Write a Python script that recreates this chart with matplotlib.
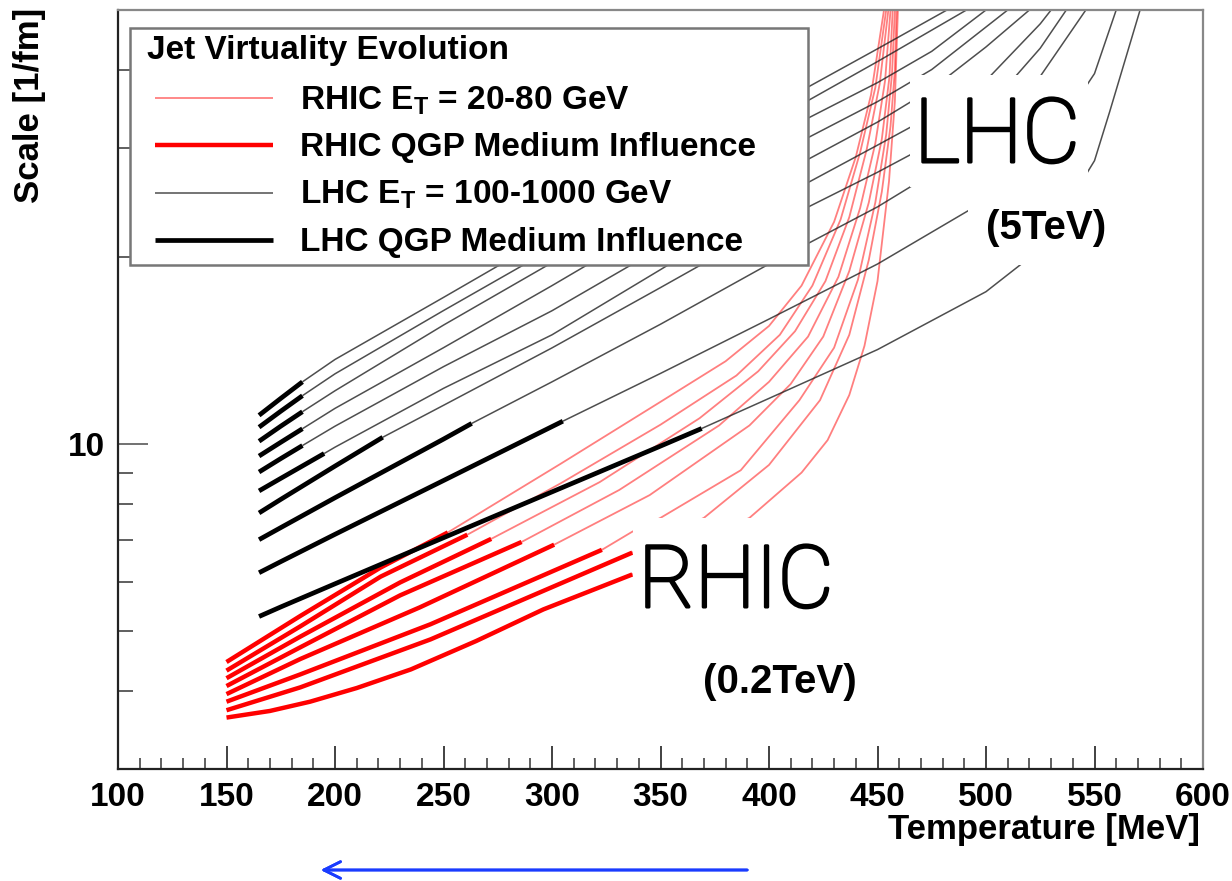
import matplotlib
matplotlib.use("Agg")
import matplotlib.pyplot as plt
import matplotlib.patheffects as pe
from matplotlib.lines import Line2D
from matplotlib.patches import Rectangle
from matplotlib.ticker import FixedLocator, NullFormatter, FixedFormatter

plt.rcParams['font.family'] = ['Liberation Sans', 'DejaVu Sans']
plt.rcParams['font.weight'] = 'bold'
plt.rcParams['mathtext.fontset'] = 'custom'
plt.rcParams['mathtext.rm'] = 'Liberation Sans:bold'
plt.rcParams['mathtext.bf'] = 'Liberation Sans:bold'

# --- LHC jets (black): medium part (thick) and vacuum part (thin), (T [MeV], scale [1/fm])
lhc_1_qgp = [(165, 11.13), (175, 11.85), (185, 12.6)]
lhc_1_vac = [(185, 12.6), (200, 13.69), (250, 17.23), (300, 21.74), (350, 27.5), (400, 34.7), (450, 43.3), (482, 50)]
lhc_2_qgp = [(165, 10.65), (175, 11.30), (185, 11.97)]
lhc_2_vac = [(185, 11.97), (200, 12.98), (250, 16.41), (300, 20.64), (350, 26.08), (400, 32.95), (450, 41.3), (491, 50)]
lhc_3_qgp = [(165, 10.11), (175, 10.69), (185, 11.28)]
lhc_3_vac = [(185, 11.28), (200, 12.19), (250, 15.55), (300, 19.6), (350, 24.7), (400, 31.1), (450, 38.2), (475, 42.9), (500, 50)]
lhc_4_qgp = [(165, 9.57), (175, 10.07), (185, 10.59)]
lhc_4_vac = [(185, 10.59), (200, 11.42), (250, 14.30), (300, 18.0), (350, 22.8), (400, 28.9), (450, 35.6), (475, 40.1), (510, 50)]
lhc_5_qgp = [(165, 9.02), (175, 9.48), (185, 9.95)]
lhc_5_vac = [(185, 9.95), (200, 10.69), (250, 13.33), (300, 16.4), (350, 20.7), (400, 26.6), (450, 33.0), (475, 37.3), (500, 43.6), (520, 50)]
lhc_6_qgp = [(165, 8.41), (175, 8.81), (195, 9.66)]
lhc_6_vac = [(195, 9.66), (200, 9.89), (250, 12.3), (300, 15.0), (350, 19.1), (400, 24.4), (450, 30.3), (475, 33.8), (500, 38.5), (525, 47.5), (530, 50)]
lhc_7_qgp = [(165, 7.75), (175, 8.15), (200, 9.22), (222, 10.26)]
lhc_7_vac = [(222, 10.26), (250, 11.55), (300, 14.29), (350, 17.87), (400, 22.4), (450, 27.4), (475, 30.5), (500, 34.5), (525, 43.4), (537, 50)]
lhc_8_qgp = [(165, 7.02), (175, 7.34), (200, 8.20), (250, 10.19), (263, 10.8)]
lhc_8_vac = [(263, 10.8), (300, 12.6), (350, 15.6), (400, 19.5), (450, 24.1), (500, 30.8), (525, 39.1), (546, 50)]
lhc_9_qgp = [(165, 6.21), (175, 6.47), (200, 7.16), (250, 8.74), (305, 10.89)]
lhc_9_vac = [(305, 10.89), (350, 13.0), (400, 15.9), (450, 19.5), (500, 24.7), (525, 29.2), (550, 39.5), (560, 50)]
lhc_10_qgp = [(165, 5.28), (175, 5.47), (200, 5.96), (250, 7.07), (300, 8.38), (350, 9.93), (369, 10.6)]
lhc_10_vac = [(369, 10.6), (400, 11.85), (450, 14.2), (500, 17.6), (525, 20.6), (550, 28.6), (557, 34.3), (571, 50)]

# --- RHIC jets (red)
rhic_1_qgp = [(150, 4.46), (184, 5.29), (221, 6.33), (252, 7.21)]
rhic_1_vac = [(252, 7.21), (304, 9.30), (350, 11.7), (380, 13.6), (400, 15.5), (415, 18.0), (430, 22.8), (440, 29.0), (447, 36.5), (453, 50)]
rhic_2_qgp = [(150, 4.32), (184, 5.09), (221, 6.12), (261, 7.15)]
rhic_2_vac = [(261, 7.15), (304, 8.65), (350, 10.75), (385, 12.9), (405, 15.0), (420, 18.0), (433, 23.0), (442, 29.5), (449, 37.5), (454, 50)]
rhic_3_qgp = [(150, 4.20), (184, 4.90), (230, 5.99), (272, 7.04)]
rhic_3_vac = [(272, 7.04), (322, 8.69), (368, 11.01), (395, 13.1), (412, 15.2), (426, 18.3), (437, 23.2), (445, 29.8), (451, 38.0), (455, 50)]
rhic_4_qgp = [(150, 4.08), (184, 4.71), (230, 5.71), (286, 6.96)]
rhic_4_vac = [(286, 6.96), (331, 8.44), (377, 10.72), (400, 12.6), (418, 14.9), (432, 18.6), (442, 24.0), (449, 30.5), (453.5, 38.5), (456, 50)]
rhic_5_qgp = [(150, 3.96), (184, 4.51), (239, 5.46), (301, 6.89)]
rhic_5_vac = [(301, 6.89), (345, 8.28), (391, 10.72), (410, 12.5), (425, 14.9), (437, 19.0), (446, 24.5), (452, 31.0), (455.5, 39.0), (457, 50)]
rhic_6_qgp = [(150, 3.85), (184, 4.26), (244, 5.13), (323, 6.76)]
rhic_6_vac = [(323, 6.76), (337, 7.23), (350, 7.61), (387, 9.08), (414, 11.77), (430, 14.3), (441, 18.4), (449, 24.5), (454, 31.5), (456.7, 39.5), (458, 50)]
rhic_7_qgp = [(150, 3.73), (184, 4.06), (244, 4.85), (337, 6.69)]
rhic_7_vac = [(337, 6.69), (370, 7.61), (400, 9.26), (423.5, 11.77), (437, 15.0), (446, 19.8), (452, 25.5), (456, 32.5), (458, 40.0), (458.8, 50)]
rhic_8_qgp = [(150, 3.63), (170, 3.72), (188.5, 3.85), (210, 4.05), (235, 4.34), (265, 4.82), (296, 5.42), (337, 6.17)]
rhic_8_vac = [(337, 6.17), (391, 7.61), (415, 9.0), (427, 10.15), (437, 12.0), (444, 14.4), (450, 18.3), (455.3, 26.5), (458, 35.6), (459.4, 50)]

x_major = [100, 150, 200, 250, 300, 350, 400, 450, 500, 550, 600]
y_major = [10]
y_minor = [3, 4, 5, 6, 7, 8, 9, 20, 30, 40]

legend_title = "Jet Virtuality Evolution"
legend_labels = ["RHIC E$_\\mathrm{T}$ = 20-80 GeV", "RHIC QGP Medium Influence",
                 "LHC E$_\\mathrm{T}$ = 100-1000 GeV", "LHC QGP Medium Influence"]

W, H = 1232, 881
fig = plt.figure(figsize=(W / 100, H / 100), dpi=100)
ax = fig.add_axes([118 / W, 1 - 769 / H, (1203 - 118) / W, (769 - 10) / H])


def P(x, y):
    return (x / W, 1 - y / H)


red_thin = dict(color='red', lw=1.3, alpha=0.5, solid_capstyle='butt')
red_thick = dict(color='red', lw=3.2, solid_capstyle='butt')
blk_thin = dict(color='#222222', lw=1.1, alpha=0.8, solid_capstyle='butt')
blk_thick = dict(color='black', lw=3.4, solid_capstyle='butt')

rhic = [(rhic_1_qgp, rhic_1_vac), (rhic_2_qgp, rhic_2_vac), (rhic_3_qgp, rhic_3_vac),
        (rhic_4_qgp, rhic_4_vac), (rhic_5_qgp, rhic_5_vac), (rhic_6_qgp, rhic_6_vac),
        (rhic_7_qgp, rhic_7_vac), (rhic_8_qgp, rhic_8_vac)]
lhc = [(lhc_1_qgp, lhc_1_vac), (lhc_2_qgp, lhc_2_vac), (lhc_3_qgp, lhc_3_vac),
       (lhc_4_qgp, lhc_4_vac), (lhc_5_qgp, lhc_5_vac), (lhc_6_qgp, lhc_6_vac),
       (lhc_7_qgp, lhc_7_vac), (lhc_8_qgp, lhc_8_vac), (lhc_9_qgp, lhc_9_vac),
       (lhc_10_qgp, lhc_10_vac)]

for qgp, vac in rhic:
    ax.plot(*zip(*vac), zorder=2, **red_thin)
    ax.plot(*zip(*qgp), zorder=3, **red_thick)
for qgp, vac in lhc:
    ax.plot(*zip(*vac), zorder=2, **blk_thin)
    ax.plot(*zip(*qgp), zorder=4, **blk_thick)

ax.set_xlim(100, 600)
ax.set_yscale('log')
ax.set_ylim(3, 50)

ax.xaxis.set_major_locator(FixedLocator(x_major))
ax.xaxis.set_minor_locator(FixedLocator([v for v in range(100, 601, 10) if v % 50]))
ax.yaxis.set_major_locator(FixedLocator(y_major))
ax.yaxis.set_major_formatter(FixedFormatter(["10"]))
ax.yaxis.set_minor_locator(FixedLocator(y_minor))
ax.yaxis.set_minor_formatter(NullFormatter())

ax.tick_params(axis='x', which='major', direction='in', length=16.5, width=1.3, color='#333333',
               labelsize=24, pad=9, top=False)
ax.tick_params(axis='x', which='minor', direction='in', length=8, width=1.2, color='#444444', top=False)
ax.tick_params(axis='y', which='major', direction='in', length=21.6, width=1.3, color='#666666',
               labelsize=24, pad=9, right=False)
ax.tick_params(axis='y', which='minor', direction='in', length=10.8, width=1.2, color='#444444', right=False)
for lab in ax.get_xticklabels() + ax.get_yticklabels():
    lab.set_fontweight('bold')

for side in ['left', 'bottom']:
    ax.spines[side].set_color('#222222')
    ax.spines[side].set_linewidth(1.6)
for side in ['top', 'right']:
    ax.spines[side].set_color('#888888')
    ax.spines[side].set_linewidth(1.6)

fig.text(*P(1200, 830), "Temperature [MeV]", ha='right', va='center', fontsize=25, fontweight='bold')
fig.text(*P(30, 8), "Scale [1/fm]", ha='center', va='top', rotation=90, fontsize=25, fontweight='bold')

# legend box
x0, y0 = P(130, 265)
x1, y1 = P(808, 28)
fig.add_artist(Rectangle((x0, y0), x1 - x0, y1 - y0, transform=fig.transFigure,
                         facecolor='white', edgecolor='#777777', lw=1.8, zorder=5))
fig.text(*P(147, 59), legend_title, ha='left', va='baseline', fontsize=24, fontweight='bold', zorder=6)
styles = [red_thin, red_thick, blk_thin, blk_thick]
for i, (lab, st) in enumerate(zip(legend_labels, styles)):
    yc = 98 + 47.3 * i
    (lx0, ly), (lx1, _) = P(155, yc), P(273, yc)
    fig.add_artist(Line2D([lx0, lx1], [ly, ly], transform=fig.transFigure, zorder=6, **st))
    fig.text(*P(300, yc + 11), lab, ha='left', va='baseline', fontsize=24, fontweight='bold', zorder=6)

# white label boxes over the curves
for (bx0, by0, bx1, by1) in [(910, 75, 1088, 187), (968, 185, 1115, 265), (633, 518, 838, 622)]:
    a0, b0 = P(bx0, by1)
    a1, b1 = P(bx1, by0)
    fig.add_artist(Rectangle((a0, b0), a1 - a0, b1 - b0, transform=fig.transFigure,
                             facecolor='white', edgecolor='none', zorder=5))

thicken = [pe.withStroke(linewidth=2.2, foreground='black')]
fig.text(*P(997, 162), "LHC", ha='center', va='baseline', fontsize=64, family='Roboto',
         fontweight='light', zorder=6, path_effects=thicken)
fig.text(*P(736, 607), "RHIC", ha='center', va='baseline', fontsize=62, family='Roboto',
         fontweight='light', zorder=6, path_effects=thicken)
fig.text(*P(1046, 228), "(5TeV)", ha='center', va='center', fontsize=29, fontweight='bold', zorder=6)
fig.text(*P(780, 682), "(0.2TeV)", ha='center', va='center', fontsize=29, fontweight='bold', zorder=6)

# blue arrow under the axis
fig.add_artist(plt.annotate("", xy=P(318, 870), xytext=P(750, 870), xycoords='figure fraction',
                            arrowprops=dict(arrowstyle='->', color='#1a3cff', lw=2.0, mutation_scale=30)))

fig.savefig("out.png", dpi=100)
